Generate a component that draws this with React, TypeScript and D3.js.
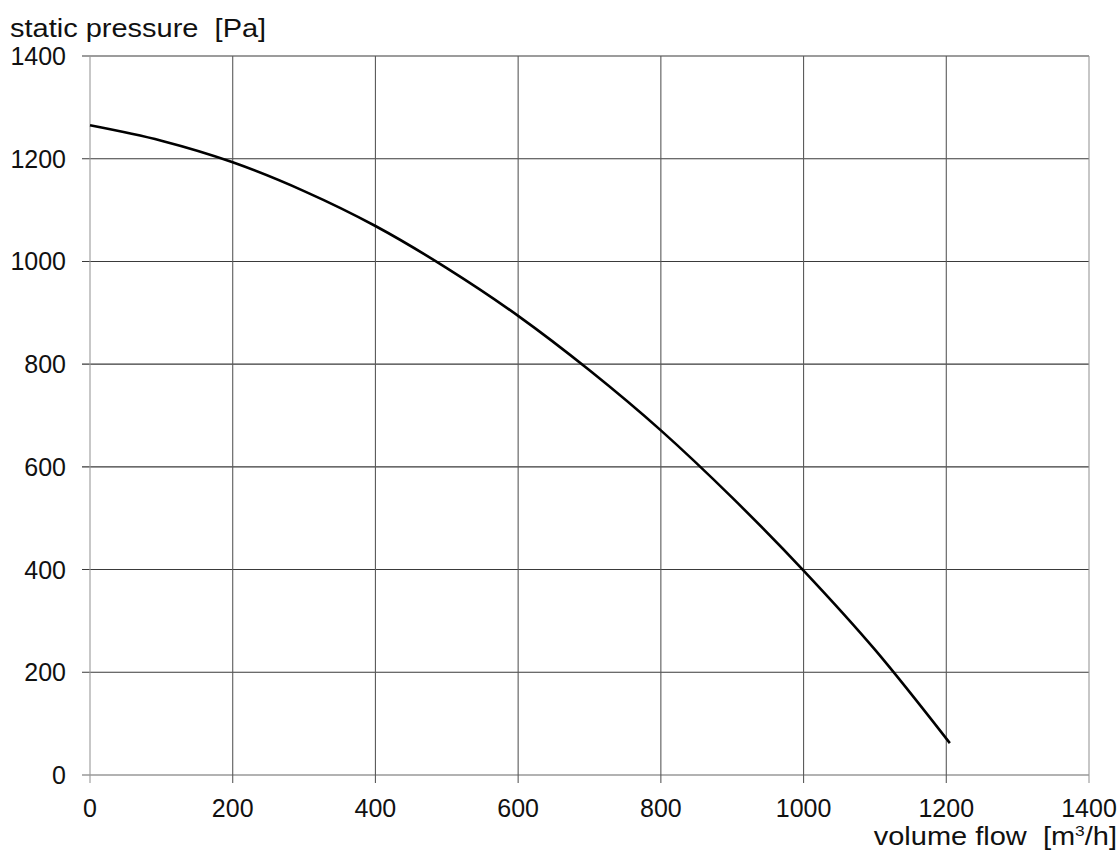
import React from "react";
import * as d3 from "d3";

// volume flow [m3/h] and static pressure [Pa]
const flow = [0, 100, 200, 300, 400, 500, 600, 700, 800, 900, 1000, 1100, 1205];
const pressure = [1265, 1235, 1193, 1137, 1069, 987, 894, 788, 671, 540, 398, 244, 62];

const xTicks = [0, 200, 400, 600, 800, 1000, 1200, 1400];
const yTicks = [0, 200, 400, 600, 800, 1000, 1200, 1400];

const W = 1120;
const H = 852;
const FONT = "'Liberation Sans', Arial, sans-serif";
const STRETCH = 1.16;

const App: React.FC = () => {
  const x = d3.scaleLinear().domain([0, 1400]).range([90, 1089]);
  const y = d3.scaleLinear().domain([0, 1400]).range([775, 56]);

  const line = d3
    .line<number>()
    .x((_, i) => x(flow[i]))
    .y((d) => y(d))
    .curve(d3.curveMonotoneX);

  return (
    <svg
      width={W}
      height={H}
      style={{ position: "absolute", left: 0, top: 0, background: "#fff" }}
      fontFamily={FONT}
    >
      {/* horizontal grid */}
      {yTicks.map((t) => (
        <line
          key={"h" + t}
          x1={x(0) - 8}
          x2={x(1400)}
          y1={y(t)}
          y2={y(t)}
          stroke={t === 0 ? "#666" : "#3a3a3a"}
          strokeWidth={1.1}
        />
      ))}
      {/* vertical grid */}
      {xTicks.map((t) => (
        <line
          key={"v" + t}
          x1={x(t)}
          x2={x(t)}
          y1={y(1400)}
          y2={y(0) + 8}
          stroke={t === 0 || t === 1400 ? "#999" : "#5a5a5a"}
          strokeWidth={1.1}
        />
      ))}

      <path d={line(pressure)!} fill="none" stroke="#000" strokeWidth={2.6} />

      {yTicks.map((t) => (
        <text
          key={"yl" + t}
          x={66}
          y={y(t)}
          dy="0.36em"
          textAnchor="end"
          fontSize={25}
          fill="#111"
        >
          {t}
        </text>
      ))}
      {xTicks.map((t) => (
        <text
          key={"xl" + t}
          x={x(t)}
          y={816.5}
          textAnchor="middle"
          fontSize={25}
          fill="#111"
        >
          {t}
        </text>
      ))}

      <g transform={`translate(10,36.5) scale(${STRETCH},1)`}>
        <text x={0} y={0} fontSize={25} fill="#111">
          static pressure&#160;&#160;[Pa]
        </text>
      </g>
      <g transform={`translate(1117,845) scale(${STRETCH},1)`}>
        <text x={0} y={0} fontSize={25} fill="#111" textAnchor="end">
          volume flow&#160;&#160;[m
          <tspan fontSize={15} dy={-9}>3</tspan>
          <tspan dy={9}>/h]</tspan>
        </text>
      </g>
    </svg>
  );
};

export default App;
